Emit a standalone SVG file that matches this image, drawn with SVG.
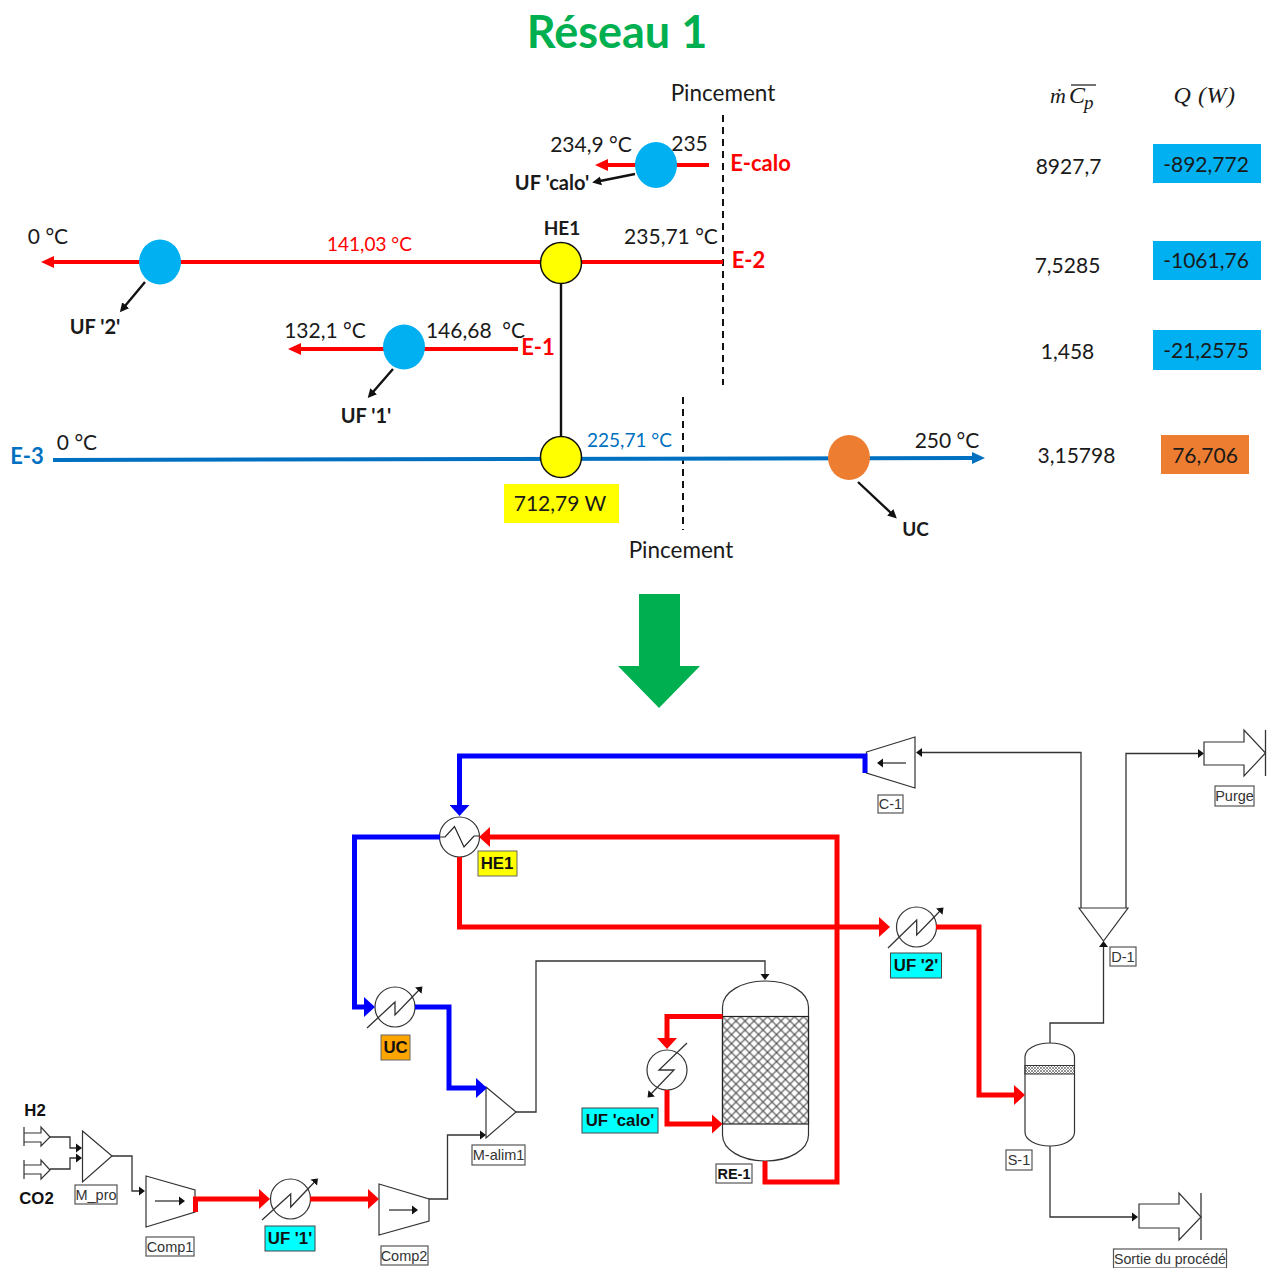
<svg xmlns="http://www.w3.org/2000/svg" width="1271" height="1268" viewBox="0 0 1271 1268">
<style>
text{font-family:"Lato","Open Sans",sans-serif;font-size:22px;fill:#1a1a1a;text-anchor:middle}
.n{font-size:21px}
.b{font-weight:700}
.s{font-size:19px}
.u{font-size:20px}
.r{fill:#f00}
.bl{fill:#0070c0}
.m{font-family:"Liberation Serif",serif;font-style:italic;font-size:24px}
.p{font-family:"Liberation Sans",Arial,sans-serif;font-size:14.500px;fill:#333}
.pb{font-family:"Liberation Sans",Arial,sans-serif;font-size:16.800px;font-weight:700;fill:#111}
.lb{fill:#fff;stroke:#555;stroke-width:1.2}
.eq{fill:#fff;stroke:#333;stroke-width:1.2}
.thin{fill:none;stroke:#333;stroke-width:1.3;marker-end:url(#tk)}
.red{fill:none;stroke:#f00;stroke-width:5}
.blu{fill:none;stroke:#00f;stroke-width:5}
.ra{marker-end:url(#tr)}
.ba{marker-end:url(#tb)}
.hot{fill:none;stroke:#f00;stroke-width:4;marker-end:url(#hr)}
.cold{fill:none;stroke:#0070c0;stroke-width:4;marker-end:url(#hb)}
.blk{fill:none;stroke:#111;stroke-width:2.4;marker-end:url(#hk)}
.dash{stroke:#111;stroke-width:2;stroke-dasharray:7 5;fill:none}
.line{fill:none;stroke:#333;stroke-width:1.3}
.zz{fill:none;stroke:#222;stroke-width:1.2}
</style>
<defs>
<marker id="tr" markerUnits="userSpaceOnUse" markerWidth="11" markerHeight="20" refX="3" refY="10" orient="auto"><path d="M0 0L11 10L0 20Z" fill="#f00"/></marker>
<marker id="tb" markerUnits="userSpaceOnUse" markerWidth="11" markerHeight="20" refX="3" refY="10" orient="auto"><path d="M0 0L11 10L0 20Z" fill="#00f"/></marker>
<marker id="tk" markerUnits="userSpaceOnUse" markerWidth="7" markerHeight="10" refX="1" refY="5" orient="auto"><path d="M0 .5L6 5L0 9.500Z" fill="#111"/></marker>
<marker id="hr" markerUnits="userSpaceOnUse" markerWidth="14" markerHeight="14" refX="2" refY="7" orient="auto"><path d="M0 1L13 7L0 13Z" fill="#f00"/></marker>
<marker id="hb" markerUnits="userSpaceOnUse" markerWidth="14" markerHeight="14" refX="2" refY="7" orient="auto"><path d="M0 1L13 7L0 13Z" fill="#0070c0"/></marker>
<marker id="hk" markerUnits="userSpaceOnUse" markerWidth="10" markerHeight="10" refX="1" refY="5" orient="auto"><path d="M0 .5L9 5L0 9.500Z" fill="#111"/></marker>
<pattern id="hatch" patternUnits="userSpaceOnUse" width="9" height="9" x="722.500" y="1016.500"><path d="M0 0L9 9M9 0L0 9" stroke="#444" stroke-width="1.100"/></pattern>
<pattern id="fine" patternUnits="userSpaceOnUse" width="3" height="3"><path d="M0 0L3 3M3 0L0 3" stroke="#777" stroke-width=".8"/></pattern>
</defs>
<rect width="1271" height="1268" fill="#fff"/>

<text x="617" y="48" class="b" style="font-size:45px;fill:#00b050">Réseau 1</text>

<g id="connectors-top">
<path class="dash" d="M723 115V385M683 397V530"/>
<path class="hot" d="M709 165H606"/>
<path class="hot" d="M723 262H52"/>
<path class="hot" d="M518 349H299"/>
<path class="cold" d="M53 460L974 458"/>
<path d="M561 283V437" fill="none" stroke="#111" stroke-width="2.400"/>
<path class="blk" d="M635 174L600 181"/>
<path class="blk" d="M145 282L125 306"/>
<path class="blk" d="M393 369L373 392"/>
<path class="blk" d="M858 482L891 513"/>
</g>

<g id="top-labels">
<text x="723" y="101" style="font-size:22.500px">Pincement</text>
<text x="681" y="558" style="font-size:22.500px">Pincement</text>
<text x="591" y="152" class="n">234,9 °C</text>
<text x="689.500" y="151" class="n">235</text>
<text x="760.500" y="171" class="b r">E-calo</text>
<text x="552" y="190" class="b u">UF 'calo'</text>
<text x="48" y="244" class="n">0 °C</text>
<text x="369.500" y="251" class="s r">141,03 °C</text>
<text x="671" y="244" class="n">235,71 °C</text>
<text x="748.500" y="268" class="b r">E-2</text>
<text x="95" y="334" class="b u">UF '2'</text>
<text x="325" y="338" class="n">132,1 °C</text>
<text x="475.500" y="338" class="n" xml:space="preserve">146,68  °C</text>
<text x="538" y="355" class="b r">E-1</text>
<text x="366" y="423" class="b u">UF '1'</text>
<text x="27" y="464" class="b bl">E-3</text>
<text x="77" y="450" class="n">0 °C</text>
<text x="629.500" y="447" class="s bl">225,71 °C</text>
<text x="947" y="448" class="n">250 °C</text>
<text x="915.500" y="536" class="b s">UC</text>
</g>

<g id="ex-calo"><ellipse cx="656" cy="165" rx="21" ry="23" fill="#00b0f0"/></g>
<g id="ex-uf2"><ellipse cx="160" cy="262" rx="21" ry="22.500" fill="#00b0f0"/></g>
<g id="ex-he1-hot"><circle cx="561" cy="263" r="20.500" fill="#ff0" stroke="#111" stroke-width="1.500"/><text x="562" y="235" class="b s">HE1</text></g>
<g id="ex-uf1"><ellipse cx="404" cy="347" rx="21" ry="22.500" fill="#00b0f0"/></g>
<g id="ex-he1-cold"><circle cx="561" cy="457" r="20.500" fill="#ff0" stroke="#111" stroke-width="1.500"/></g>
<g id="ex-uc"><ellipse cx="849" cy="457.500" rx="21" ry="22.500" fill="#ed7d31"/></g>
<g id="duty-he1"><rect x="504" y="484" width="115" height="39" fill="#ff0"/><text x="560" y="511" class="n">712,79 W</text></g>

<g id="table">
<text x="1050" y="103" class="m" style="text-anchor:start;font-size:22px">ṁ</text>
<text x="1069" y="103" class="m" style="text-anchor:start">C</text>
<text x="1084" y="109" class="m" style="text-anchor:start;font-size:19px">p</text>
<path d="M1071 85H1096" stroke="#444" stroke-width="1.500"/>
<text x="1204.500" y="103" class="m" style="letter-spacing:.5px">Q (W)</text>
<text x="1068.500" y="174" class="n">8927,7</text>
<rect x="1153" y="144" width="108" height="39" fill="#00b0f0"/><text x="1206" y="172" class="n">-892,772</text>
<text x="1067.500" y="273" class="n">7,5285</text>
<rect x="1153" y="241" width="108" height="39" fill="#00b0f0"/><text x="1206" y="268" class="n">-1061,76</text>
<text x="1067.500" y="359" class="n">1,458</text>
<rect x="1153" y="330" width="108" height="40" fill="#00b0f0"/><text x="1206" y="358" class="n">-21,2575</text>
<text x="1076.500" y="463" class="n">3,15798</text>
<rect x="1161" y="435" width="88" height="39" fill="#ed7d31"/><text x="1205" y="463" class="n">76,706</text>
</g>

<g id="big-arrow"><path d="M639 594H680V666H700L659 708L618 666H639Z" fill="#00b050"/></g>

<g id="H2"><path class="eq" d="M24 1133H41V1127L50 1137L41 1146V1142H24M24 1127V1146"/><text x="35" y="1116" class="pb">H2</text></g>
<g id="CO2"><path class="eq" d="M24 1165H41V1160L50 1170L41 1179V1174H24M24 1160V1179"/><text x="36.500" y="1204" class="pb">CO2</text></g>
<g id="M_pro"><path class="eq" d="M82.500 1131L112 1156L82.500 1182Z"/><rect class="lb" x="75" y="1185" width="42" height="19"/><text x="96" y="1200" class="p">M_pro</text></g>
<g id="Comp1"><path class="eq" d="M146 1176L195 1190V1212L146 1227Z"/><path class="thin" d="M155 1201H180"/><rect class="lb" x="146" y="1237" width="48" height="19"/><text x="170" y="1252" class="p">Comp1</text></g>
<g id="UF1"><circle class="eq" cx="290.500" cy="1199" r="20"/><path class="thin" d="M262 1220L290.700 1194V1207L314.500 1182"/><rect x="265" y="1226" width="50" height="25" fill="#0ff" stroke="#444"/><text x="290" y="1244" class="pb">UF '1'</text></g>
<g id="Comp2"><path class="eq" d="M379 1184L429 1199V1221L379 1235Z"/><path class="thin" d="M389 1210H413"/><rect class="lb" x="381" y="1246" width="47" height="19"/><text x="404" y="1261" class="p">Comp2</text></g>
<g id="UC"><circle class="eq" cx="395" cy="1007" r="20"/><path class="thin" d="M367 1028L395 1002V1015L419 990"/><rect x="381" y="1035" width="29" height="25" fill="#ffa500" stroke="#666"/><text x="395.500" y="1053" class="pb">UC</text></g>
<g id="M-alim1"><path class="eq" d="M486 1087L516 1112L486 1138Z"/><rect class="lb" x="472" y="1145" width="53" height="20"/><text x="498.500" y="1160" class="p">M-alim1</text></g>
<g id="HE1"><circle class="eq" cx="459.500" cy="837" r="20"/><path class="zz" d="M440 837H445L454.500 826.500L464 847L474 836H479"/><rect x="478" y="851" width="39" height="25" fill="#ff0" stroke="#666"/><text x="497" y="869" class="pb">HE1</text></g>
<g id="RE-1"><path class="eq" d="M722.500 1007C722.500 992 742 981 765.500 981C789 981 808.500 992 808.500 1007V1135C808.500 1150 789 1161 765.500 1161C742 1161 722.500 1150 722.500 1135Z"/><rect x="722.500" y="1016.500" width="86" height="107.500" fill="url(#hatch)" stroke="#222" stroke-width="1.200"/><rect class="lb" x="716" y="1164" width="36" height="19"/><text x="734" y="1179" class="p" style="font-weight:700;fill:#111">RE-1</text></g>
<g id="UF-calo"><circle class="eq" cx="667" cy="1070" r="20"/><path class="thin" d="M687 1043L659 1070H674L651 1094"/><rect x="582" y="1108" width="76" height="25" fill="#0ff" stroke="#444"/><text x="620" y="1126" class="pb">UF 'calo'</text></g>
<g id="UF2"><circle class="eq" cx="916.500" cy="927" r="20"/><path class="thin" d="M888 948L916.700 920V935L940 911"/><rect x="890.500" y="953" width="51" height="25" fill="#0ff" stroke="#444"/><text x="916" y="971" class="pb">UF '2'</text></g>
<g id="C-1"><path class="eq" d="M866.500 752L915 737V788L866.500 773Z"/><path class="thin" d="M906 763H882"/><rect class="lb" x="878" y="795" width="25" height="18"/><text x="890.500" y="809" class="p">C-1</text></g>
<g id="D-1"><path class="eq" d="M1079 908H1128L1103.500 941Z"/><rect class="lb" x="1110" y="947" width="26" height="19"/><text x="1123" y="962" class="p">D-1</text></g>
<g id="Purge"><path class="eq" d="M1204 742H1244V730L1265.500 753L1244 776V765H1204Z"/><path class="line" d="M1265.500 730V776"/><rect class="lb" x="1215" y="786" width="39" height="20"/><text x="1234.500" y="801" class="p">Purge</text></g>
<g id="S-1"><path class="eq" d="M1025 1057C1025 1049 1036 1043 1050 1043C1064 1043 1074.500 1049 1074.500 1057V1132C1074.500 1140 1064 1146 1050 1146C1036 1146 1025 1140 1025 1132Z"/><rect x="1025" y="1065.500" width="49.500" height="8.500" fill="url(#fine)" stroke="#333" stroke-width="1"/><rect class="lb" x="1006" y="1150" width="26" height="20"/><text x="1019" y="1165" class="p">S-1</text></g>
<g id="Sortie"><path class="eq" d="M1139 1204H1179V1193L1201 1217L1179 1240V1228H1139Z"/><path class="line" d="M1201 1193V1240"/><rect class="lb" x="1113.500" y="1249" width="113" height="19"/><text x="1170" y="1264" class="p" style="font-size:14.200px">Sortie du procédé</text></g>

<g id="connectors">
<path class="thin" d="M50 1137H70V1148H77"/>
<path class="thin" d="M50 1169H70V1158H77"/>
<path class="thin" d="M112 1156H132V1191H140"/>
<path class="thin" d="M429 1199H447.500V1135H481"/>
<path class="thin" d="M516 1112H536V961H765V975"/>
<path class="thin" d="M1081 908V752.500H921"/>
<path class="thin" d="M1126 908V753.500H1199"/>
<path class="thin" d="M1050 1043V1023H1103.500V946"/>
<path class="thin" d="M1050 1146V1217H1133"/>
<path class="red ra" d="M195.500 1212V1199H262"/>
<path class="red ra" d="M310 1199H371"/>
<path class="blu ba" d="M865 773V756H459.500V808"/>
<path class="blu ba" d="M440 837H354.500V1007H367"/>
<path class="blu ba" d="M415 1007H449V1088H479"/>
<path class="red ra" d="M765 1161V1182H837V837H487"/>
<path class="red ra" d="M459.500 857V927H882"/>
<path class="red ra" d="M936 927H979V1095H1017"/>
<path class="red ra" d="M722.500 1016.500H667V1041"/>
<path class="red ra" d="M667 1090V1124H714.500"/>
</g>
</svg>
